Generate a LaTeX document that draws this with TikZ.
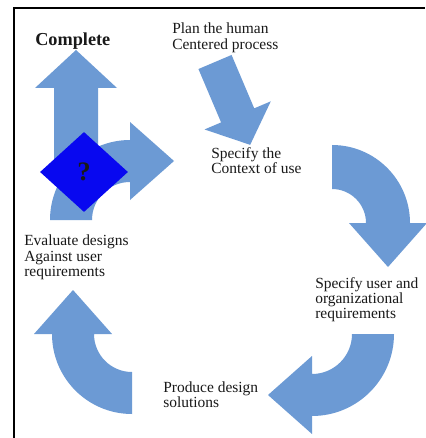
\documentclass[tikz,border=0pt]{standalone}
\usepackage{fontspec}
\setmainfont{Liberation Serif}
\usetikzlibrary{shapes.geometric, calc}
\definecolor{hcdblue}{RGB}{108,154,212}
\definecolor{hcdquery}{RGB}{8,8,240}
\definecolor{hcdtext}{RGB}{25,25,25}
\tikzstyle{blockarrow} = [fill=hcdblue]
\tikzstyle{steptext} = [anchor=north west, inner sep=0pt, align=left, text=hcdtext, font=\fontsize{11.6}{11.4}\selectfont]

\begin{document}
\begin{tikzpicture}[x=0.75pt, y=-0.75pt]
\useasboundingbox (0,0) rectangle (425,438);
\fill[white] (0,0) rectangle (425,438);
% frame
\draw[line width=1.5pt] (14,438) -- (14,8) -- (425,8);

% Complete arrow
\fill[blockarrow] (54,180) -- (54,88) -- (35,88) -- (76,50) -- (117,88) -- (98,88) -- (98,180) -- cycle;

% Plan -> context arrow
\begin{scope}[shift={(215,62)}, rotate=-67]
  \fill[blockarrow] (0,-18) -- (58,-18) -- (58,-36) -- (90,0) -- (58,36) -- (58,18) -- (0,18) -- cycle;
\end{scope}

% Curved arrows of the cycle
\foreach \cx/\cy/\ang/\rout/\rin in {130/220/180/80/38, 332/223/270/78/34, 312/334/0/82/40, 132/334/90/80/38} {
  \pgfmathsetmacro\rmid{(\rout+\rin)/2}
  \fill[blockarrow] ($(\cx,\cy)+(\ang:\rout)$) arc[start angle=\ang, delta angle=90, radius=\rout]
    -- ($(\cx,\cy)+(\ang+90:\rmid+39)$) -- ($(\cx,\cy)+(\ang+90:\rmid)+(\ang+180:44)$)
    -- ($(\cx,\cy)+(\ang+90:\rmid-39)$) -- ($(\cx,\cy)+(\ang+90:\rin)$)
    arc[start angle=\ang+90, delta angle=-90, radius=\rin] -- cycle;
}

% Decision
\node[diamond, fill=hcdquery, minimum width=66pt, minimum height=60pt, inner sep=0pt, text=hcdtext, font=\fontsize{20}{20}\bfseries\selectfont] (query) at (84,172) {?};

% Labels
\node[anchor=north west, inner sep=0pt, text=hcdtext, font=\fontsize{13.7}{14}\bfseries\selectfont] (complete) at (35,33) {Complete};
\node[steptext] (plan) at (172,23) {Plan the human\\Centered process};
\node[steptext] (context) at (211,147) {Specify the\\Context of use};
\node[steptext] (userreq) at (315,277) {Specify user and\\organizational\\requirements};
\node[steptext] (produce) at (163,381) {Produce design\\solutions};
\node[steptext] (evaluate) at (24,235) {Evaluate designs\\Against user\\requirements};
\end{tikzpicture}
\end{document}
